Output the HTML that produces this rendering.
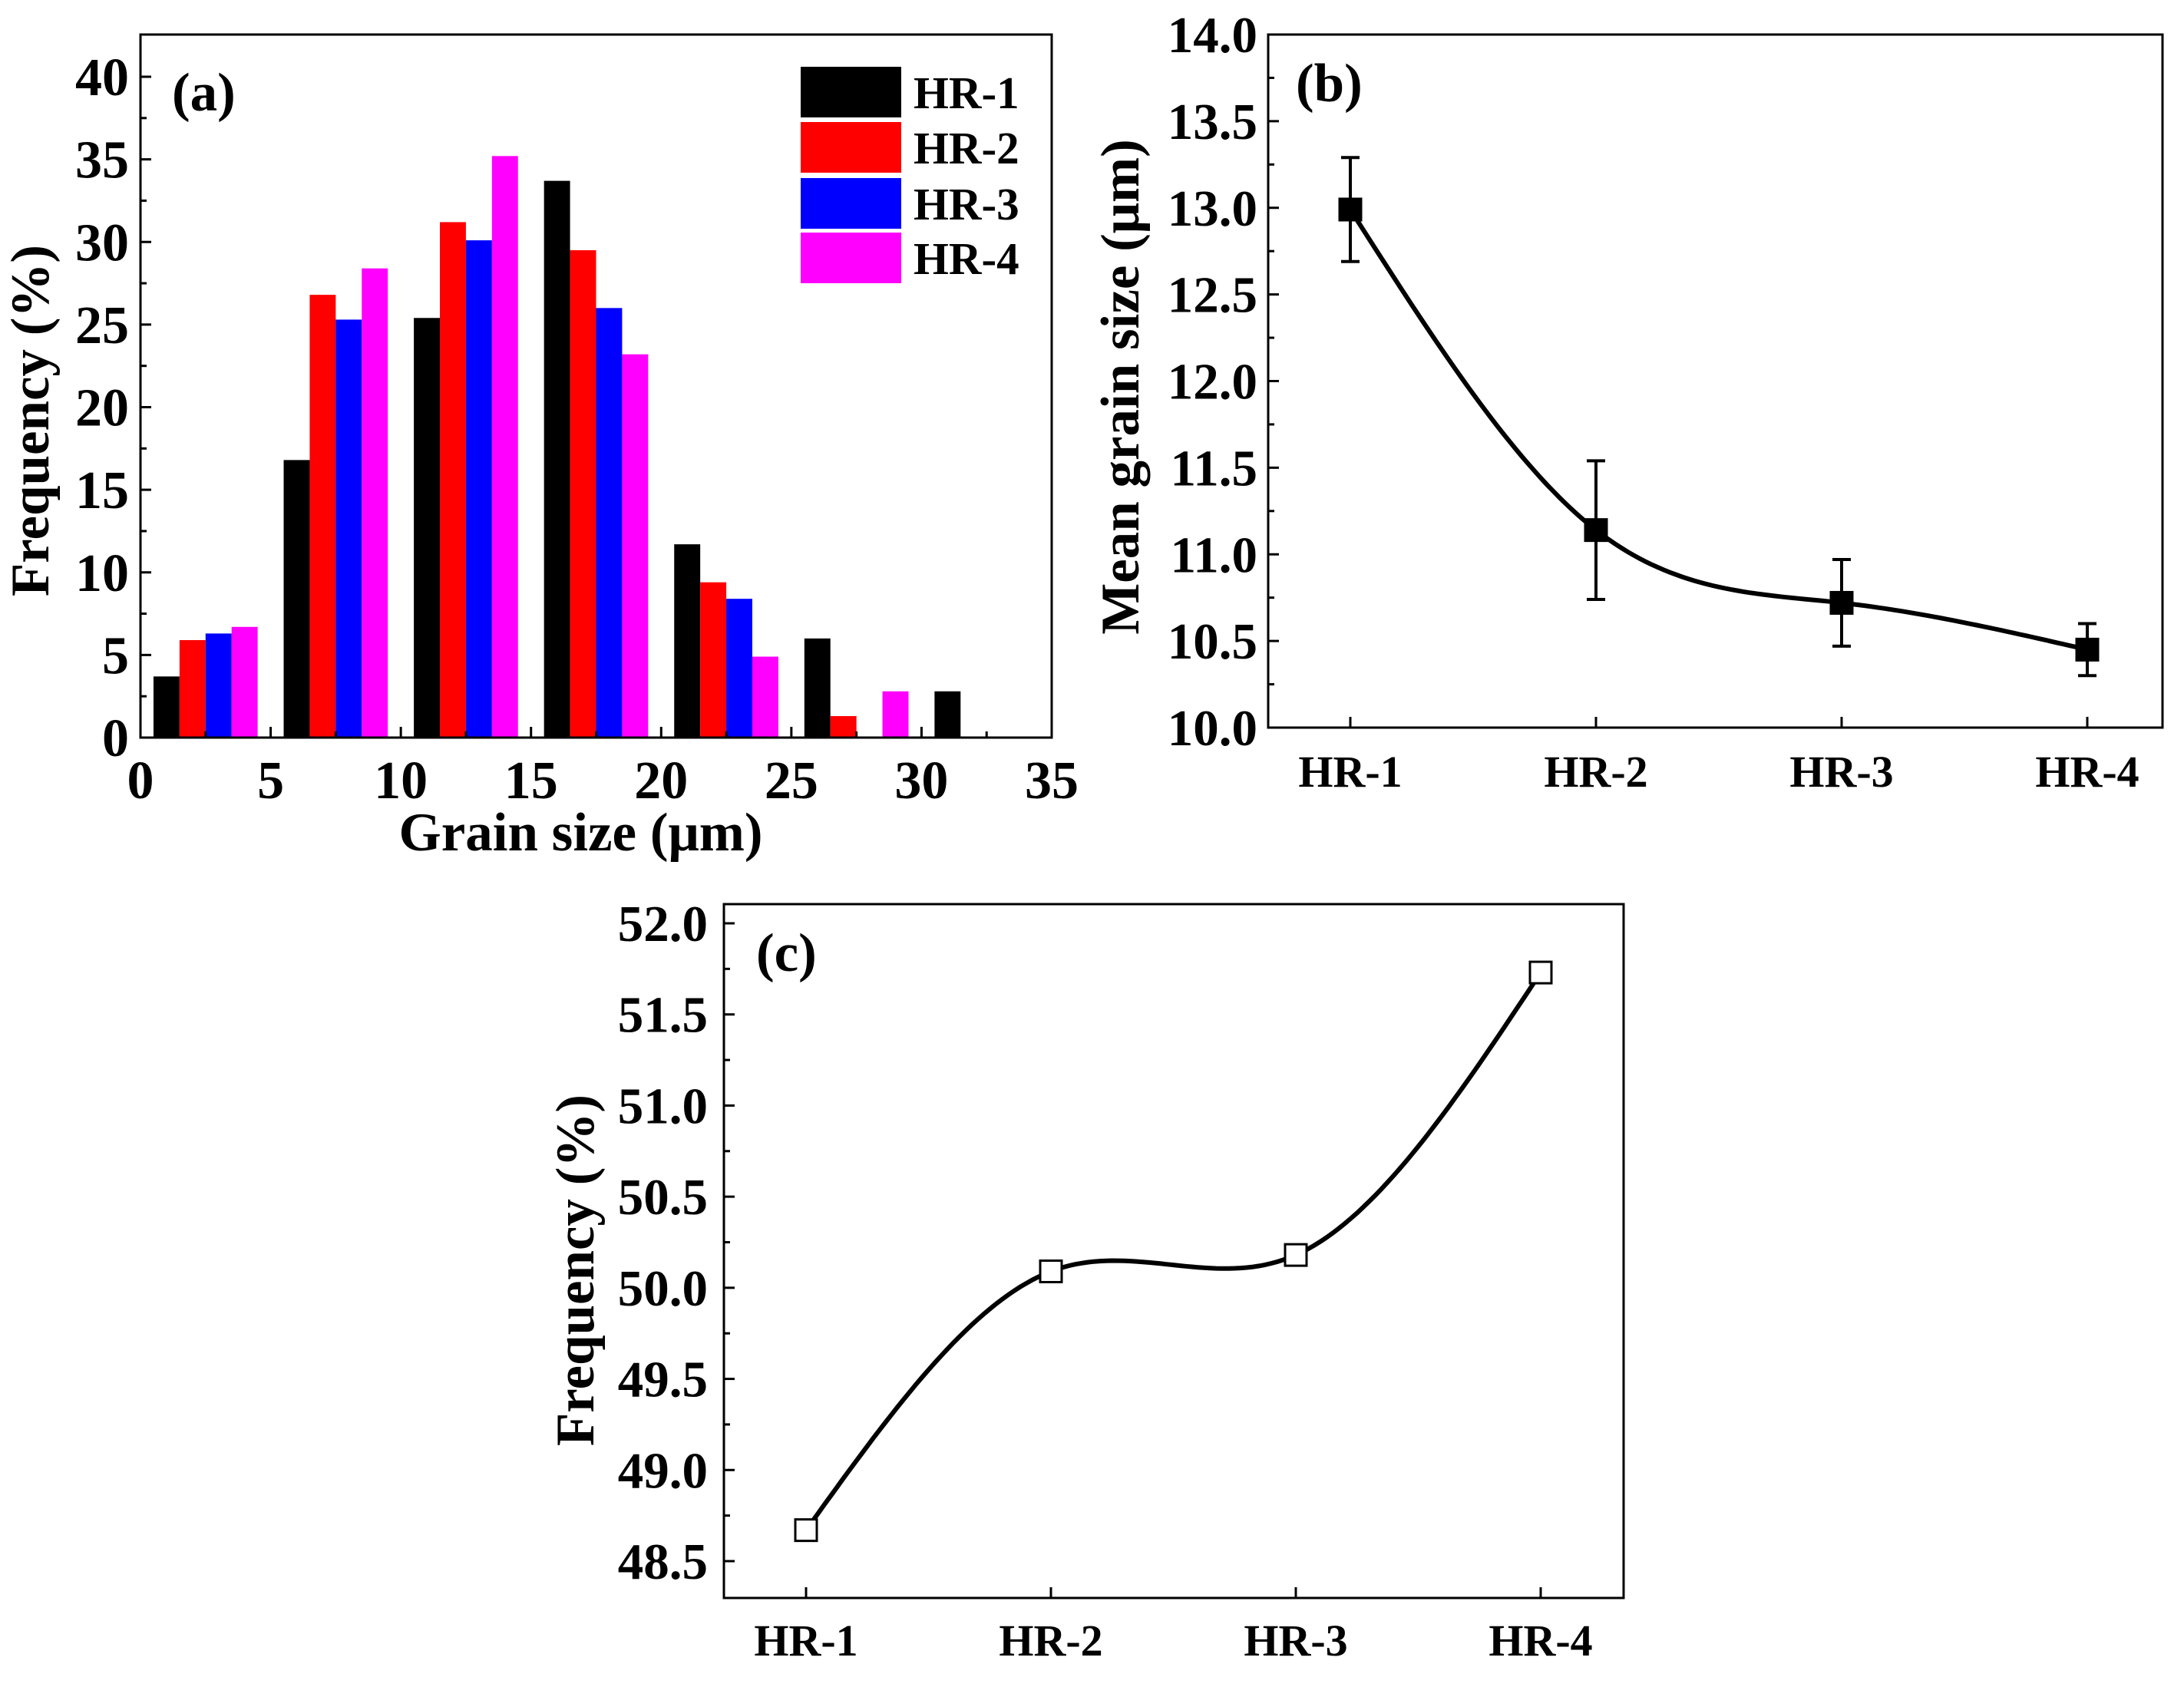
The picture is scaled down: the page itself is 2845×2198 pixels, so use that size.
<!DOCTYPE html>
<html><head><meta charset="utf-8"><style>
html,body{margin:0;padding:0;background:#fff}
svg{display:block}
text{font-family:"Liberation Serif",serif;font-weight:bold;fill:#000}
</style></head><body>
<svg id="fig" width="2845" height="2198" viewBox="0 0 2845 2198" xmlns="http://www.w3.org/2000/svg">
<rect x="0" y="0" width="2845" height="2198" fill="#fff"/>
<g id="pa"></g>
<g id="pb"></g>
<g id="pc"></g>
</svg>
<script>
// ---- Panel (a) data ----
const binStarts = [0, 5, 10, 15, 20, 25, 30];
const seriesNames = ["HR-1", "HR-2", "HR-3", "HR-4"];
const hr1Freq = [3.7, 16.8, 25.4, 33.7, 11.7, 6.0, 2.8];
const hr2Freq = [5.9, 26.8, 31.2, 29.5, 9.4, 1.3, 0];
const hr3Freq = [6.3, 25.3, 30.1, 26.0, 8.4, 0, 0];
const hr4Freq = [6.7, 28.4, 35.2, 23.2, 4.9, 2.8, 0];
const xTicksA = [0, 5, 10, 15, 20, 25, 30, 35];
const yTicksA = [0, 5, 10, 15, 20, 25, 30, 35, 40];
// ---- Panel (b) data ----
const samplesB = ["HR-1", "HR-2", "HR-3", "HR-4"];
const meanSize = [12.99, 11.14, 10.72, 10.45];
const meanErr = [0.30, 0.40, 0.25, 0.15];
const yTicksB = [10.0, 10.5, 11.0, 11.5, 12.0, 12.5, 13.0, 13.5, 14.0];
// ---- Panel (c) data ----
const samplesC = ["HR-1", "HR-2", "HR-3", "HR-4"];
const freqC = [48.67, 50.09, 50.18, 51.73];
const yTicksC = [48.5, 49.0, 49.5, 50.0, 50.5, 51.0, 51.5, 52.0];

const NS = "http://www.w3.org/2000/svg";
function mk(parent, tag, attrs, txt) {
  const e = document.createElementNS(NS, tag);
  for (const k in attrs) e.setAttribute(k, attrs[k]);
  if (txt !== undefined) e.textContent = txt;
  parent.appendChild(e);
  return e;
}
function spline(xs, ys) {
  const n = xs.length, h = [], al = [], l = [1], mu = [0], z = [0], c = new Array(n).fill(0), b = [], d = [];
  for (let i = 0; i < n - 1; i++) h.push(xs[i+1] - xs[i]);
  for (let i = 1; i < n - 1; i++) al[i] = 3/h[i]*(ys[i+1]-ys[i]) - 3/h[i-1]*(ys[i]-ys[i-1]);
  for (let i = 1; i < n - 1; i++) { l[i] = 2*(xs[i+1]-xs[i-1]) - h[i-1]*mu[i-1]; mu[i] = h[i]/l[i]; z[i] = (al[i]-h[i-1]*z[i-1])/l[i]; }
  z[n-1] = 0; c[n-1] = 0;
  for (let j = n - 2; j >= 0; j--) { c[j] = z[j] - mu[j]*c[j+1]; b[j] = (ys[j+1]-ys[j])/h[j] - h[j]*(c[j+1]+2*c[j])/3; d[j] = (c[j+1]-c[j])/(3*h[j]); }
  const pts = [];
  for (let j = 0; j < n - 1; j++) for (let k = 0; k <= 40; k++) {
    const t = h[j]*k/40; pts.push([xs[j]+t, ys[j]+b[j]*t+c[j]*t*t+d[j]*t*t*t]);
  }
  return pts;
}

// ===== Panel (a) =====
(function(){
  const g = document.getElementById('pa');
  const L = 183, R = 1370, T = 45, B = 961;
  const xS = v => L + (v/35)*(R-L);
  const yS = v => B - v*(B-100)/40;
  const cols = ["#000000", "#ff0000", "#0000ff", "#ff00ff"];
  const all = [hr1Freq, hr2Freq, hr3Freq, hr4Freq];
  all.forEach((arr, s) => {
    arr.forEach((v, i) => {
      if (v <= 0) return;
      const x0 = xS(binStarts[i] + 0.5 + s), x1 = xS(binStarts[i] + 1.5 + s);
      const r = mk(g, 'rect', {x: x0, y: yS(v), width: x1 - x0, height: yS(0) - yS(v), fill: cols[s]});
      
      
    });
  });
  const fr = mk(g, 'rect', {x: L, y: T, width: R-L, height: B-T, fill: 'none', stroke: '#000', 'stroke-width': 3});
   
  xTicksA.forEach(v => {
    mk(g, 'line', {x1: xS(v), x2: xS(v), y1: B, y2: B-14, stroke: '#000', 'stroke-width': 3});
    const t = mk(g, 'text', {x: xS(v), y: 1040, 'font-size': 70, 'text-anchor': 'middle'}, String(v));
     
  });
  for (let v = 2.5; v < 35; v += 5) mk(g, 'line', {x1: xS(v), x2: xS(v), y1: B, y2: B-8, stroke: '#000', 'stroke-width': 3});
  yTicksA.forEach(v => {
    mk(g, 'line', {x1: L, x2: L+14, y1: yS(v), y2: yS(v), stroke: '#000', 'stroke-width': 3});
    const t = mk(g, 'text', {x: 168, y: yS(v)+24, 'font-size': 70, 'text-anchor': 'end'}, String(v));
     
  });
  for (let v = 2.5; v < 42; v += 5) mk(g, 'line', {x1: L, x2: L+8, y1: yS(v), y2: yS(v), stroke: '#000', 'stroke-width': 3});
  let t = mk(g, 'text', {x: xS(17.5) - 20, y: 1108, 'font-size': 71, 'text-anchor': 'middle'}, 'Grain size (μm)');
   
  t = mk(g, 'text', {x: 0, y: 0, 'font-size': 71, 'text-anchor': 'middle', transform: 'translate(63,548) rotate(-90)'}, 'Frequency (%)');
   
  t = mk(g, 'text', {x: 224, y: 144, 'font-size': 71}, '(a)');
   
  const ly = [87, 159, 232, 303];
  seriesNames.forEach((n, s) => {
    const r = mk(g, 'rect', {x: 1043, y: ly[s], width: 131, height: 66, fill: cols[s]});
     
    const tt = mk(g, 'text', {x: 1190, y: ly[s]+54, 'font-size': 59}, n);
     
  });
})();

function linePanel(g, cfg, cats, vals, errs, yTicks, filled) {
  const {L, R, T, B, x0, dx, yMin, yMax, yMinPix, yMaxPix} = cfg;
  const xS = i => x0 + i*dx;
  const yS = v => yMinPix - (v - yMin)/(yMax - yMin)*(yMinPix - yMaxPix);
  const fr = mk(g, 'rect', {x: L, y: T, width: R-L, height: B-T, fill: 'none', stroke: '#000', 'stroke-width': 3});
   
  yTicks.forEach(v => {
    mk(g, 'line', {x1: L, x2: L+14, y1: yS(v), y2: yS(v), stroke: '#000', 'stroke-width': 3});
    const t = mk(g, 'text', {x: cfg.tickX, y: yS(v)+23, 'font-size': 67, 'text-anchor': 'end'}, v.toFixed(1));
     
  });
  for (let k = 0; k < yTicks.length; k++) {
    const v = yTicks[k] + 0.25;
    if (yS(v) > T) mk(g, 'line', {x1: L, x2: L+8, y1: yS(v), y2: yS(v), stroke: '#000', 'stroke-width': 3});
  }
  if (yS(yTicks[0]-0.25) < B) mk(g, 'line', {x1: L, x2: L+8, y1: yS(yTicks[0]-0.25), y2: yS(yTicks[0]-0.25), stroke: '#000', 'stroke-width': 3});
  cats.forEach((c, i) => {
    mk(g, 'line', {x1: xS(i), x2: xS(i), y1: B, y2: B-14, stroke: '#000', 'stroke-width': 3});
    const t = mk(g, 'text', {x: xS(i), y: cfg.catY, 'font-size': 58, 'text-anchor': 'middle'}, c);
     
  });
  const pts = spline(cats.map((c, i) => i), vals);
  const d = pts.map((p, k) => (k ? 'L' : 'M') + xS(p[0]).toFixed(1) + ' ' + yS(p[1]).toFixed(1)).join(' ');
  const path = mk(g, 'path', {d: d, fill: 'none', stroke: '#000', 'stroke-width': 6});
   
  vals.forEach((v, i) => {
    if (errs) {
      const e = errs[i];
      const eb = mk(g, 'path', {d: `M${xS(i)} ${yS(v-e)} L${xS(i)} ${yS(v+e)} M${xS(i)-12} ${yS(v-e)} L${xS(i)+12} ${yS(v-e)} M${xS(i)-12} ${yS(v+e)} L${xS(i)+12} ${yS(v+e)}`, stroke: '#000', 'stroke-width': 4, fill: 'none'});
       
    }
    const m = mk(g, 'rect', {x: xS(i)-14, y: yS(v)-14, width: 28, height: 28, fill: filled ? '#000' : '#fff', stroke: '#000', 'stroke-width': 3});
     
  });
  let t = mk(g, 'text', {x: 0, y: 0, 'font-size': 71, 'text-anchor': 'middle', transform: `translate(${cfg.titleX},${cfg.titleY}) rotate(-90)`}, cfg.title);
   
  t = mk(g, 'text', {x: cfg.lblX, y: cfg.lblY, 'font-size': 71}, cfg.lbl);
   
}

linePanel(document.getElementById('pb'),
  {L: 1652, R: 2817, T: 45, B: 948, x0: 1759, dx: 320, yMin: 10, yMax: 14, yMinPix: 948, yMaxPix: 45,
   tickX: 1638, catY: 1025, titleX: 1483, titleY: 504, title: 'Mean grain size (μm)', lblX: 1688, lblY: 132, lbl: '(b)'},
  samplesB, meanSize, meanErr, yTicksB, true);

linePanel(document.getElementById('pc'),
  {L: 943, R: 2115, T: 1178, B: 2082, x0: 1050, dx: 319, yMin: 48.5, yMax: 52.0, yMinPix: 2034, yMaxPix: 1203,
   tickX: 922, catY: 2157, titleX: 773, titleY: 1655, title: 'Frequency (%)', lblX: 985, lblY: 1265, lbl: '(c)'},
  samplesC, freqC, null, yTicksC, false);
</script>
</body></html>
